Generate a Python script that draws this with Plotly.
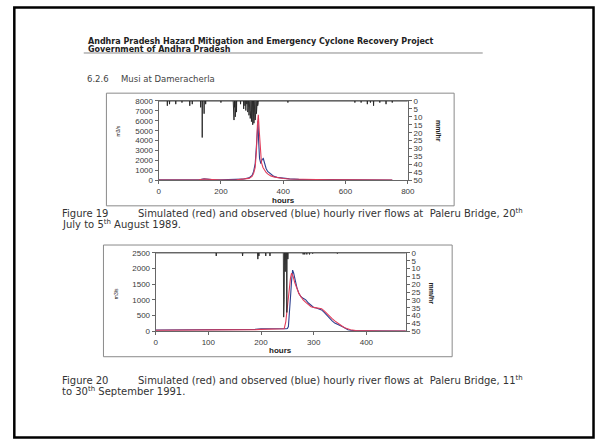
import plotly.graph_objects as go

# ---------------- data ----------------
# Figure 19 (Musi at Dameracherla, 1989)
obs1_hours = [0, 50, 100, 130, 146, 170, 200, 250, 270, 290, 300, 305, 310, 314, 317, 319, 321, 324, 328, 332, 336, 340, 345, 350, 360, 370, 380, 390, 400, 410, 420, 450, 500, 550, 600, 650, 700, 750]
obs1_flow = [60, 50, 40, 60, 150, 70, 50, 70, 120, 250, 500, 900, 1700, 3500, 5800, 6000, 4000, 2200, 1700, 2100, 2200, 1600, 1200, 900, 600, 400, 300, 250, 200, 180, 150, 100, 80, 60, 50, 40, 30, 30]
sim1_hours = [0, 50, 100, 130, 146, 170, 200, 250, 270, 290, 300, 305, 310, 314, 317, 320, 323, 326, 330, 335, 340, 345, 350, 360, 370, 380, 390, 400, 420, 450, 500, 550, 600, 650, 700, 750]
sim1_flow = [30, 30, 40, 60, 130, 60, 40, 60, 100, 200, 400, 700, 1300, 3000, 5500, 6600, 5000, 3000, 1800, 1300, 1000, 800, 650, 450, 350, 280, 220, 180, 140, 110, 80, 60, 50, 40, 30, 30]
rain1_hours = [28, 35, 55, 75, 100, 108, 135, 140, 146, 151, 200, 240, 242, 244, 246, 248, 250, 263, 273, 277, 280, 283, 286, 288, 290, 292, 294, 296, 298, 300, 302, 304, 306, 308, 310, 312, 314, 316, 318, 320, 415, 630, 650, 670, 680, 690, 710, 730, 750]
rain1_mm = [3, 2, 2, 1, 3, 2, 4, 23, 8, 2, 1, 6, 12, 4, 10, 3, 7, 2, 5, 3, 6, 2, 7, 4, 9, 5, 11, 6, 13, 8, 15, 10, 14, 9, 12, 7, 8, 4, 3, 1, 1, 1, 1, 2, 1, 3, 1, 2, 1]

# Figure 20 (1991)
obs2_hours = [0, 50, 100, 150, 190, 200, 220, 240, 248, 250, 252, 254, 256, 258, 260, 262, 265, 268, 272, 276, 280, 285, 290, 295, 300, 305, 310, 315, 320, 325, 330, 335, 340, 345, 350, 355, 360, 365, 370, 380, 400, 430, 475]
obs2_flow = [40, 40, 40, 45, 60, 80, 70, 80, 80, 90, 150, 500, 1100, 1600, 1950, 1850, 1600, 1400, 1200, 1100, 1050, 1000, 900, 820, 760, 740, 720, 680, 600, 500, 420, 330, 260, 210, 180, 140, 90, 50, 30, 15, 12, 10, 10]
sim2_hours = [0, 50, 100, 150, 190, 200, 220, 240, 244, 247, 250, 253, 256, 258, 261, 264, 268, 272, 276, 280, 285, 290, 295, 300, 305, 310, 315, 320, 325, 330, 335, 340, 345, 350, 355, 360, 365, 370, 380, 400, 430, 475]
sim2_flow = [30, 30, 35, 40, 50, 60, 70, 70, 80, 300, 800, 1300, 1700, 1850, 1750, 1550, 1350, 1200, 1100, 1000, 920, 840, 780, 760, 750, 740, 720, 650, 560, 480, 400, 330, 260, 200, 150, 100, 70, 50, 25, 15, 10, 10]
rain2_hours = [115, 165, 194, 196, 209, 217, 243, 244, 246, 249, 251, 280, 283, 287, 292, 298, 345]
rain2_mm = [2, 2, 4, 2, 2, 2, 41, 30, 12, 38, 4, 1, 1, 1, 1, 0.5, 0.5]

flow1_ticks = [0, 1000, 2000, 3000, 4000, 5000, 6000, 7000, 8000]
flow2_ticks = [0, 500, 1000, 1500, 2000, 2500]
hours1_ticks = [0, 200, 400, 600, 800]
hours2_ticks = [0, 100, 200, 300, 400]
rain_ticks = [0, 5, 10, 15, 20, 25, 30, 35, 40, 45, 50]

header_1 = "Andhra Pradesh Hazard Mitigation and Emergency Cyclone Recovery Project"
header_2 = "Government of Andhra Pradesh"
section = "6.2.6"
section_title = "Musi at Dameracherla"
cap1_fig = "Figure 19"
cap1_a = "Simulated (red) and observed (blue) hourly river flows at  Paleru Bridge, 20<sup>th</sup>"
cap1_b = "July to 5<sup>th</sup> August 1989."
cap2_fig = "Figure 20"
cap2_a = "Simulated (red) and observed (blue) hourly river flows at  Paleru Bridge, 11<sup>th</sup>"
cap2_b = "to 30<sup>th</sup> September 1991."

# ---------------- helpers ----------------
W, H = 602, 445
def px(x):
    return x / W
def py(y):
    return 1 - y / H

def spikes(hours, mm, end):
    xs, ys = [0], [0]
    for h, v in zip(hours, mm):
        xs += [h - 0.6, h, h + 0.6]
        ys += [0, v, 0]
    xs.append(end)
    ys.append(0)
    return xs, ys

BLUE = "#2d3f8f"
RED = "#e23c5a"
BLACK = "#222222"
AX = "#666666"
TXT = "#3a3a3a"
FONT = "DejaVu Sans"
SANS = "Liberation Sans, Arial"

fig = go.Figure()

r1x, r1y = spikes(rain1_hours, rain1_mm, 800)
r2x, r2y = spikes(rain2_hours, rain2_mm, 475)

fig.add_trace(go.Scatter(x=r1x, y=r1y, xaxis="x", yaxis="y2", mode="lines",
                         line=dict(color=BLACK, width=0.9)))
fig.add_trace(go.Scatter(x=obs1_hours, y=obs1_flow, xaxis="x", yaxis="y", mode="lines",
                         line=dict(color=BLUE, width=1.1)))
fig.add_trace(go.Scatter(x=sim1_hours, y=sim1_flow, xaxis="x", yaxis="y", mode="lines",
                         line=dict(color=RED, width=1.1)))

fig.add_trace(go.Scatter(x=r2x, y=r2y, xaxis="x2", yaxis="y4", mode="lines",
                         line=dict(color=BLACK, width=0.9)))
fig.add_trace(go.Scatter(x=obs2_hours, y=obs2_flow, xaxis="x2", yaxis="y3", mode="lines",
                         line=dict(color=BLUE, width=1.1)))
fig.add_trace(go.Scatter(x=sim2_hours, y=sim2_flow, xaxis="x2", yaxis="y3", mode="lines",
                         line=dict(color=RED, width=1.1)))

tickfont = dict(family=SANS, size=8, color=TXT)
common = dict(showgrid=False, zeroline=False, showline=True, linecolor=AX, linewidth=1,
              ticks="outside", ticklen=3, tickcolor=AX, tickfont=tickfont, fixedrange=True)

fig.update_layout(
    width=W, height=H,
    margin=dict(l=0, r=0, t=0, b=0),
    paper_bgcolor="white", plot_bgcolor="white",
    showlegend=False,
    xaxis=dict(domain=[px(159), px(412)], range=[0, 800], anchor="y",
               tickvals=hours1_ticks, mirror=True, **common),
    yaxis=dict(domain=[py(180), py(99)], range=[0, 8000], anchor="x",
               tickvals=flow1_ticks, **common),
    yaxis2=dict(domain=[py(180), py(99)], range=[50, 0], anchor="x", overlaying="y",
                side="right", tickvals=rain_ticks, **common),
    xaxis2=dict(domain=[px(156), px(410)], range=[0, 475], anchor="y3",
                tickvals=hours2_ticks, mirror=True, **common),
    yaxis3=dict(domain=[py(334), py(254)], range=[0, 2500], anchor="x2",
                tickvals=flow2_ticks, **common),
    yaxis4=dict(domain=[py(334), py(254)], range=[50, 0], anchor="x2", overlaying="y3",
                side="right", tickvals=rain_ticks, **common),
)

shapes = []
# outer frame
shapes.append(dict(type="rect", xref="paper", yref="paper", x0=px(12.5), x1=px(600.5),
                   y0=py(442.5), y1=py(3.5), line=dict(color="black", width=2.5)))
# header rule
shapes.append(dict(type="line", xref="paper", yref="paper", x0=px(83), x1=px(488),
                   y0=py(50), y1=py(50), line=dict(color="#888888", width=1)))
# chart boxes
shapes.append(dict(type="rect", xref="paper", yref="paper", x0=px(106), x1=px(459),
                   y0=py(206), y1=py(91), line=dict(color="#8a8a8a", width=1)))
shapes.append(dict(type="rect", xref="paper", yref="paper", x0=px(103), x1=px(457),
                   y0=py(360), y1=py(246), line=dict(color="#8a8a8a", width=1)))
fig.update_layout(shapes=shapes)

ann = []
def text(x, y, s, size=7, bold=False, color="#222222", angle=0, xanchor="left", family=FONT):
    ann.append(dict(x=px(x), y=py(y), xref="paper", yref="paper", text=s, showarrow=False,
                    xanchor=xanchor, yanchor="middle", textangle=angle,
                    font=dict(family=family, size=size, color=color,
                              weight="bold" if bold else "normal")))

text(85, 38.5, header_1, size=8, bold=True)
text(85, 46.5, header_2, size=8, bold=True)
text(84, 77, section, size=8.5, color="#444444")
text(119, 77, section_title, size=8.5, color="#444444")

text(286, 200.5, "hours", size=8, bold=True, xanchor="center", family=SANS)
text(118, 130, "m3/s", size=5, angle=-90, xanchor="center", family=SANS)
text(443, 130, "mm/hr", size=7, bold=True, angle=90, xanchor="center", family=SANS)

text(283, 354, "hours", size=8, bold=True, xanchor="center", family=SANS)
text(116, 296, "m3/s", size=5, angle=-90, xanchor="center", family=SANS)
text(437, 296, "mm/hr", size=7, bold=True, angle=90, xanchor="center", family=SANS)

CAP = 10
CAPC = "#333333"
text(59, 213.5, cap1_fig, size=CAP, color=CAPC)
text(136, 213.5, cap1_a, size=CAP, color=CAPC)
text(59, 224.5, cap1_b, size=CAP, color=CAPC)
text(59, 384, cap2_fig, size=CAP, color=CAPC)
text(136, 384, cap2_a, size=CAP, color=CAPC)
text(59, 395, cap2_b, size=CAP, color=CAPC)

fig.update_layout(annotations=ann)

fig.write_html("out.html")
